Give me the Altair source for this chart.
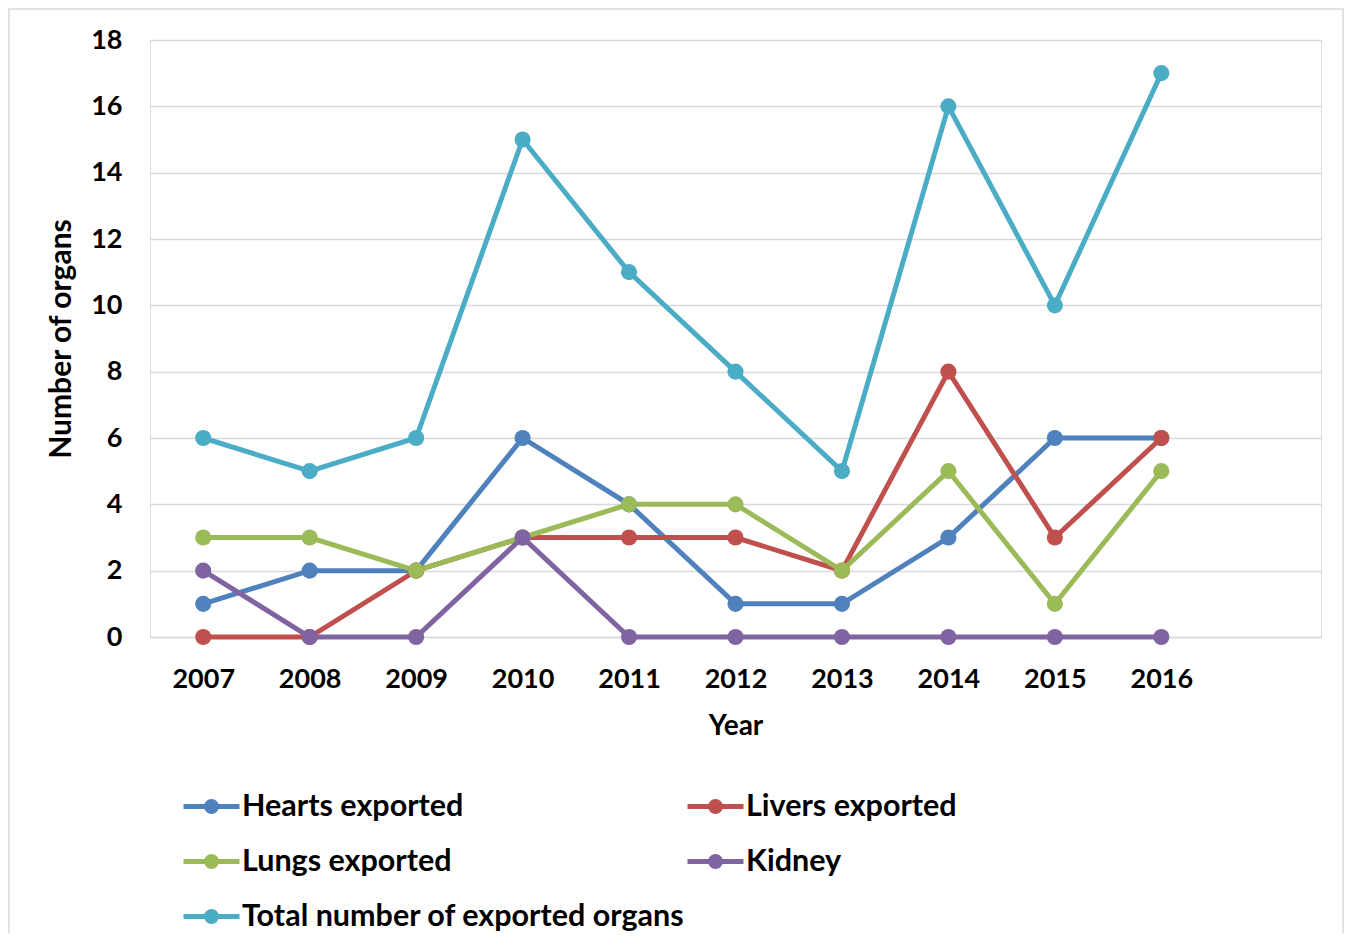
import altair as alt
import pandas as pd

years = [2007, 2008, 2009, 2010, 2011, 2012, 2013, 2014, 2015, 2016]
hearts = [1, 2, 2, 6, 4, 1, 1, 3, 6, 6]
livers = [0, 0, 2, 3, 3, 3, 2, 8, 3, 6]
lungs = [3, 3, 2, 3, 4, 4, 2, 5, 1, 5]
kidney = [2, 0, 0, 3, 0, 0, 0, 0, 0, 0]
total = [6, 5, 6, 15, 11, 8, 5, 16, 10, 17]

series_names = ["Hearts exported", "Livers exported", "Lungs exported", "Kidney",
                "Total number of exported organs"]
series_values = [hearts, livers, lungs, kidney, total]
colors = ["#4F81BD", "#C0504D", "#9BBB59", "#8064A2", "#4BACC6"]
y_ticks = [0, 2, 4, 6, 8, 10, 12, 14, 16, 18]

rows = []
for i, (name, vals) in enumerate(zip(series_names, series_values)):
    for yr, v in zip(years, vals):
        rows.append({"Year": yr, "Value": v, "Series": name, "k": i})
df = pd.DataFrame(rows)

FONT = "Lato"
W, H = 1171, 597
PL, PT, PR, PB = 142, 32, 23, 296

x = alt.X("Year:Q", scale=alt.Scale(domain=[2006.5, 2017.5], nice=False, zero=False),
          axis=alt.Axis(values=years, format="d", grid=False, ticks=False, domain=True,
                        domainColor="#d9d9d9", domainWidth=1.5,
                        labelFontSize=27, labelFont=FONT, labelFontWeight="bold",
                        labelColor="black", labelPadding=29, title="Year",
                        titleFontSize=28, titleFont=FONT, titleFontWeight="bold",
                        titleColor="black", titlePadding=20))
y = alt.Y("Value:Q", scale=alt.Scale(domain=[0, 18], nice=False),
          axis=alt.Axis(values=y_ticks, grid=True, gridColor="#d9d9d9", gridWidth=1.5,
                        ticks=False, domain=False, labelFontSize=27, labelFont=FONT,
                        labelFontWeight="bold", labelColor="black", labelPadding=28,
                        title="Number of organs", titleFontSize=30, titleFont=FONT,
                        titleFontWeight="bold", titleColor="black", titlePadding=14))
color = alt.Color("Series:N", sort=series_names,
                  scale=alt.Scale(domain=series_names, range=colors),
                  legend=alt.Legend(title=None, orient="none", legendX=31, legendY=736,
                                    columns=2, direction="horizontal",
                                    symbolType="M-1,0L1,0M0.18,0A0.18,0.18,0,1,1,-0.18,0A0.18,0.18,0,1,1,0.18,0Z",
                                    symbolSize=3136, symbolStrokeWidth=5,
                                    labelFontSize=30.5, labelFont=FONT, labelFontWeight="bold",
                                    labelColor="black", labelOffset=0, columnPadding=-9,
                                    rowPadding=9, labelLimit=700))

base = alt.Chart(df)
lines = base.mark_line(strokeWidth=5).encode(x=x, y=y, color=color, order="Year:Q")
points = base.mark_point(filled=True, size=260, opacity=1).encode(x=x, y=y, color=color)

border_df = pd.DataFrame({"a": [0]})
border = alt.Chart(border_df).mark_rect(fill="white", fillOpacity=0, stroke="#d9d9d9",
                                        strokeWidth=1.5).encode(
    x=alt.value(-PL + 1), x2=alt.value(W + PR - 1),
    y=alt.value(-PT + 1), y2=alt.value(H + PB + 10))

chart = alt.layer(border, lines, points).properties(
    width=W, height=H,
    autosize=alt.AutoSizeParams(type="none"),
    padding={"left": PL, "top": PT, "right": PR, "bottom": PB},
).configure_view(stroke=None).configure(background="white")

chart.save("out.html", embed_options={"renderer": "svg", "actions": False})
